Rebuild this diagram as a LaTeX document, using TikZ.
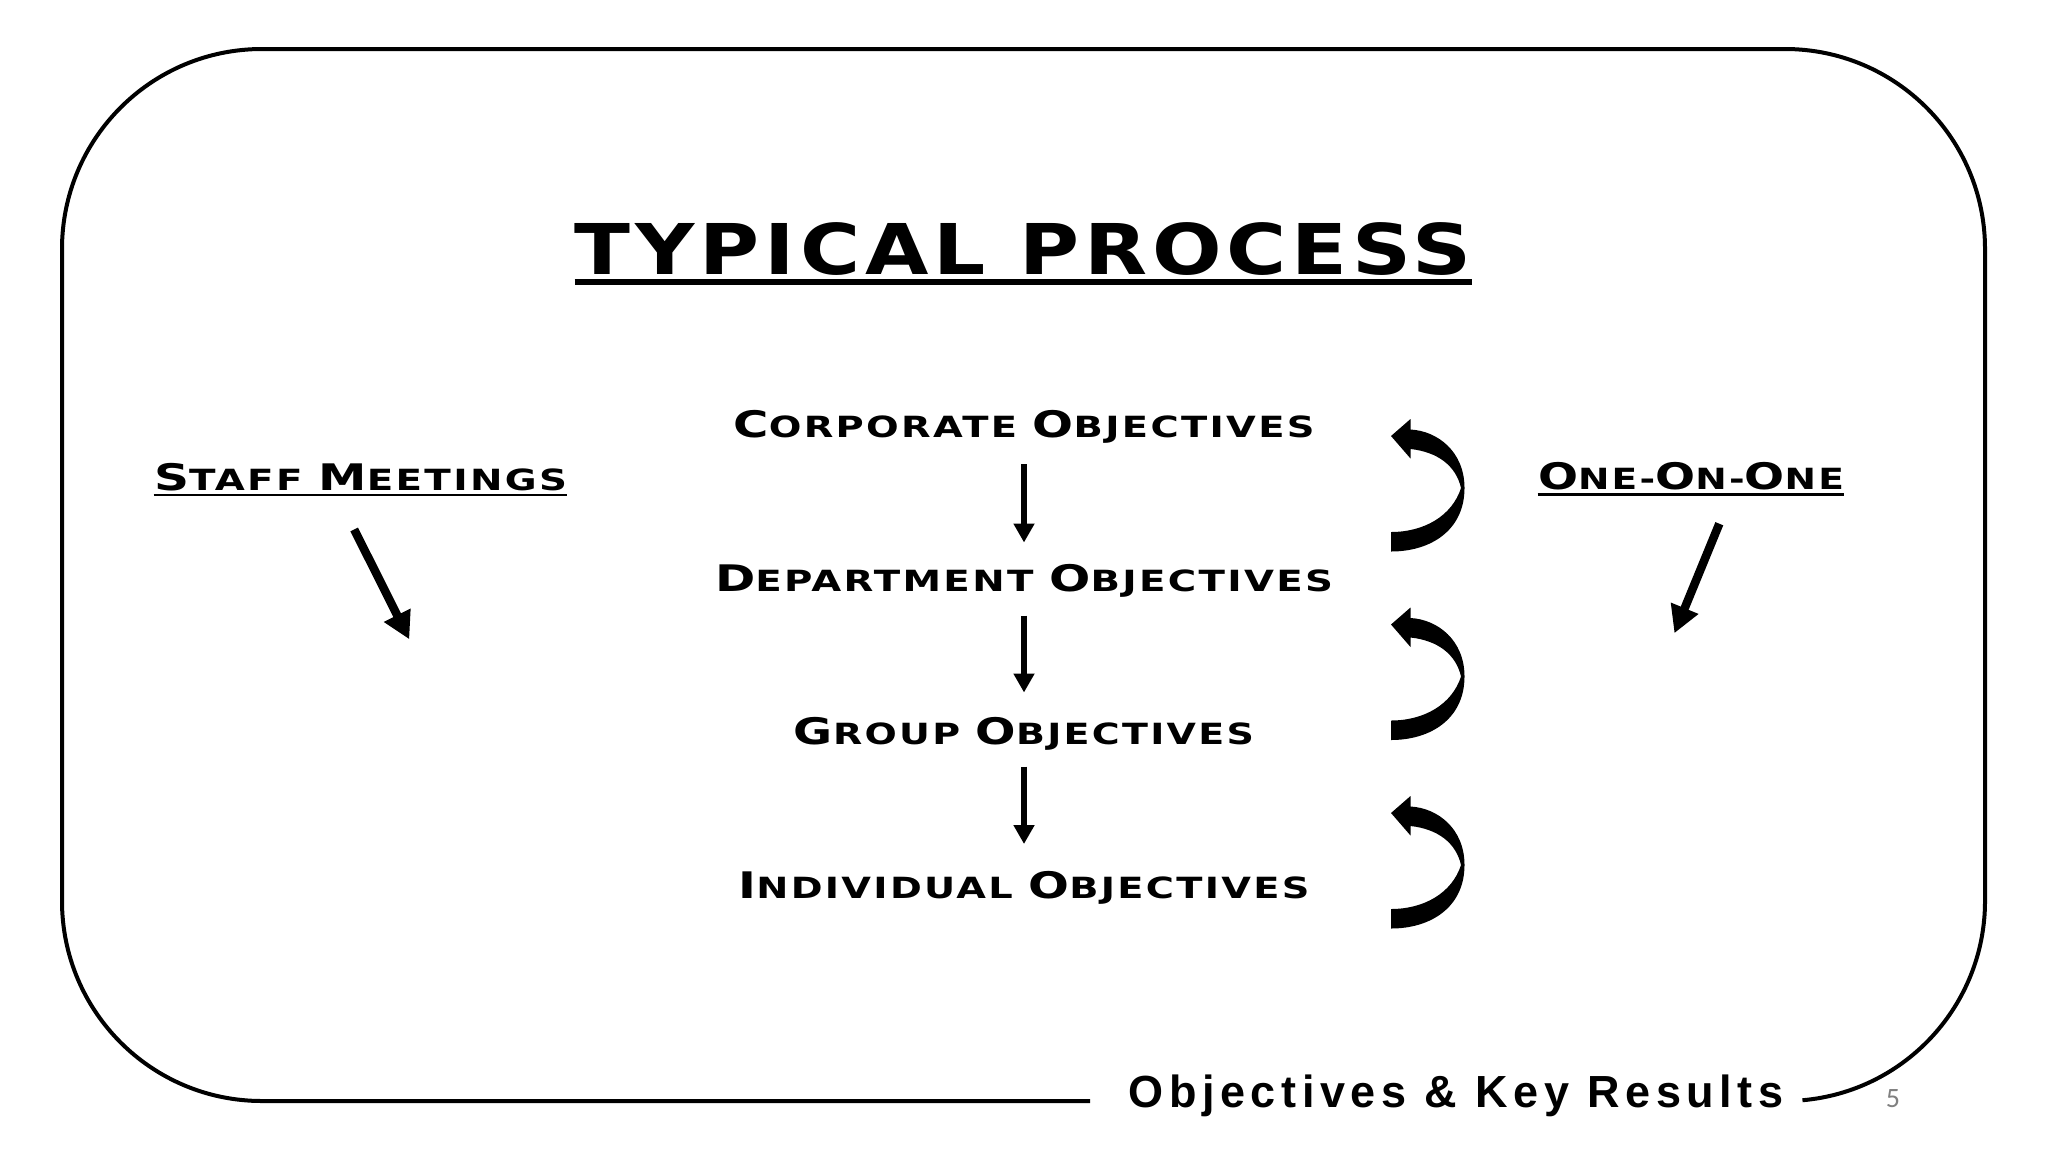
\documentclass[tikz,border=0pt]{standalone}
\usepackage{fontspec}
\usepackage{graphicx}
\usetikzlibrary{arrows.meta}
\setmainfont{DejaVu Sans}
\newfontfamily\cop{DejaVu Sans}[LetterSpace=6]
\newfontfamily\okrfont{Liberation Sans}[LetterSpace=12.5]
\newfontfamily\numfont{Carlito}
\definecolor{pgray}{RGB}{128,128,128}
\newcommand\BigC[1]{{\fontsize{18.3pt}{20pt}\selectfont #1}}
\newcommand\fitto[2]{\resizebox{#1}{\height}{#2}}
\begin{document}
\begin{tikzpicture}[x=0.5pt,y=-0.5pt,
  lbl/.style={inner sep=0pt, anchor=base, font=\cop\bfseries\fontsize{14.6pt}{16pt}\selectfont},
  ttl/.style={inner sep=0pt, anchor=base, font=\cop\bfseries\fontsize{35pt}{40pt}\selectfont},
  varrow/.style={line width=2.6pt, -{Triangle[width=10pt,length=9.5pt]}},
  darrow/.style={line width=4.25pt, -{Triangle[width=14pt,length=13.5pt]}},
  uline/.style={line width=1.2pt},
  frame/.style={line width=2pt, line cap=butt}]
\fill[white] (0,0) rectangle (2048,1152);
\useasboundingbox (0,0) rectangle (2048,1152);

% frame
\draw[frame] (1090,1101) -- (262,1101) arc[start angle=90, end angle=180, radius=200]
  -- (62,249) arc[start angle=180, end angle=270, radius=200]
  -- (1785,49) arc[start angle=270, end angle=360, radius=200]
  -- (1985,901) arc[start angle=0, end angle=85, radius=200];

% title
\node[ttl] (title) at (1023.5,274) {\fitto{448.5pt}{TYPICAL PROCESS}};
\draw[line width=2.6pt] ([yshift=-4pt]title.base west) -- ([yshift=-4pt]title.base east);

% central labels
\node[lbl] (corp) at (1024,437) {\fitto{290.5pt}{\BigC{C}ORPORATE \BigC{O}BJECTIVES}};
\node[lbl] (dept) at (1024,591.5) {\fitto{309pt}{\BigC{D}EPARTMENT \BigC{O}BJECTIVES}};
\node[lbl] (group) at (1024,744.5) {\fitto{230pt}{\BigC{G}ROUP \BigC{O}BJECTIVES}};
\node[lbl] (indiv) at (1024,898) {\fitto{285.5pt}{\BigC{I}NDIVIDUAL \BigC{O}BJECTIVES}};

\draw[varrow] ([yshift=-13.5pt]corp.base) -- ([yshift=24.5pt]dept.base);
\draw[varrow] ([yshift=-12pt]dept.base) -- ([yshift=26pt]group.base);
\draw[varrow] ([yshift=-11pt]group.base) -- ([yshift=27pt]indiv.base);

% side labels
\node[lbl] (staff) at (360.5,490) {\fitto{206.5pt}{\BigC{S}TAFF \BigC{M}EETINGS}};
\draw[uline] ([yshift=-2.5pt]staff.base west) -- ([yshift=-2.5pt]staff.base east);
\node[lbl] (one) at (1691,489.3) {\fitto{153pt}{\BigC{O}NE-\BigC{O}N-\BigC{O}NE}};
\draw[uline] ([yshift=-2.5pt]one.base west) -- ([yshift=-2.5pt]one.base east);

\coordinate (s1) at (354.2,529.5);
\coordinate (s2) at (409.3,639.3);
\draw[darrow] (s1) -- (s2);
\coordinate (o1) at (1719.3,523.7);
\coordinate (o2) at (1674.4,633.2);
\draw[darrow] (o1) -- (o2);

% curled arrows
\foreach \dy in {0,188.5,377}{
  \fill[shift={(0,\dy)}] (1391,436) -- (1410.5,419) -- (1410.5,429.5)
    .. controls (1438,431) and (1464.5,452) .. (1464.5,488)
    .. controls (1464.5,530) and (1431,551.5) .. (1391,551.5)
    -- (1391,532)
    .. controls (1424,532) and (1452,516) .. (1461,488)
    .. controls (1456,466) and (1438,452) .. (1410.5,449)
    -- (1410.5,458.5) -- cycle;
}

% footer
\node[anchor=base west, inner sep=0pt, font=\okrfont\bfseries\fontsize{22.5pt}{26pt}\selectfont] (okr) at (1128,1107) {Objectives \& Key Results};
\node[anchor=base, inner sep=0pt, text=pgray, font=\numfont\fontsize{14pt}{16pt}\selectfont] (pnum) at (1893,1107) {5};
\end{tikzpicture}
\end{document}
